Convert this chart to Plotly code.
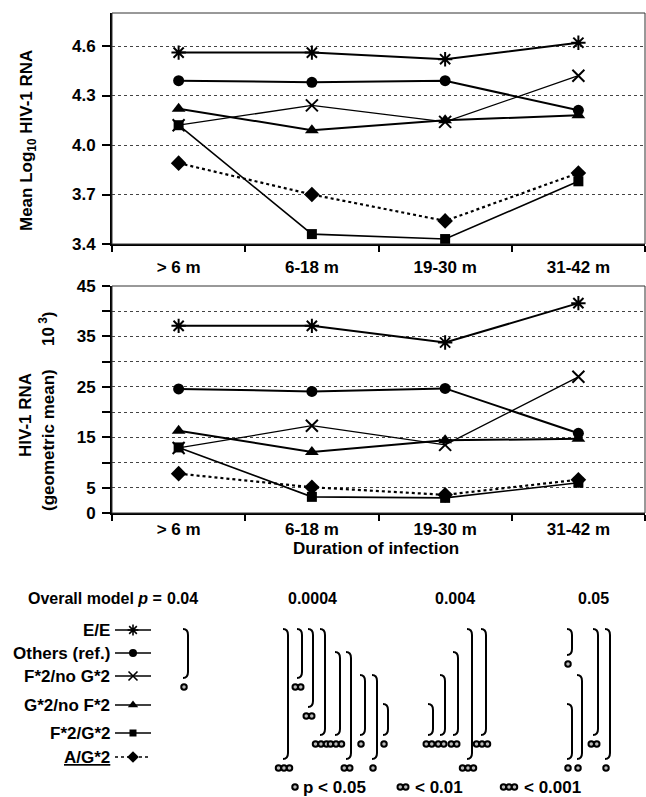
import plotly.graph_objects as go

W, H = 646, 797

# ---------------- data ----------------
categories = ["> 6 m", "6-18 m", "19-30 m", "31-42 m"]
groups = ["E/E", "Others (ref.)", "F*2/no G*2", "G*2/no F*2", "F*2/G*2", "A/G*2"]

# Mean log10 HIV-1 RNA (top panel)
log_ee = [4.56, 4.56, 4.52, 4.62]
log_others = [4.39, 4.38, 4.39, 4.21]
log_f2_nog2 = [4.12, 4.24, 4.14, 4.42]
log_g2_nof2 = [4.22, 4.09, 4.15, 4.18]
log_f2_g2 = [4.12, 3.46, 3.43, 3.78]
log_ag2 = [3.89, 3.70, 3.54, 3.83]

# HIV-1 RNA geometric mean x10^3 (bottom panel)
geo_ee = [37.1, 37.1, 33.8, 41.6]
geo_others = [24.6, 24.1, 24.7, 15.8]
geo_f2_nog2 = [12.9, 17.3, 13.5, 27.0]
geo_g2_nof2 = [16.3, 12.1, 14.4, 14.7]
geo_f2_g2 = [13.0, 3.2, 3.0, 6.0]
geo_ag2 = [7.8, 5.1, 3.6, 6.6]

top_ticks = [3.4, 3.7, 4.0, 4.3, 4.6]
bottom_ticks = [0, 5, 15, 25, 35, 45]

overall_p = ["0.04", "0.0004", "0.004", "0.05"]

# significant pairwise comparisons per period: (group from, group to, number of stars)
sig_6m = [(0, 2, 1)]
sig_6_18 = [(0, 5, 3), (0, 2, 2), (0, 3, 2), (0, 4, 3), (1, 4, 3), (1, 5, 2), (2, 4, 1), (2, 5, 1), (3, 4, 1)]
sig_19_30 = [(3, 4, 2), (2, 4, 2), (1, 4, 2), (0, 5, 3), (0, 4, 3)]
sig_31_42 = [(0, 1, 1), (3, 5, 1), (2, 5, 1), (0, 4, 2), (0, 5, 1)]
sig_all = [sig_6m, sig_6_18, sig_19_30, sig_31_42]

# ---------------- styles / layout positions ----------------
symbols = ["asterisk-open", "circle", "x-thin-open", "triangle-up", "square", "diamond"]
msizes = [12, 11, 12, 12, 10, 12]
lwidths = [2, 2, 1.3, 2, 1.6, 2.2]
dashes = ["solid", "solid", "solid", "solid", "solid", "dot"]

FONT = "Liberation Sans, Arial, sans-serif"
FS = 17


def px(x):
    return x / W


def py(y):
    return 1 - y / H


top_dom = [py(244), py(13)]
bot_dom = [py(513), py(286)]
x_dom = [px(112), px(645)]

row_y = [630, 653, 676, 705, 733, 757]
bracket_x = [[188], [288, 302, 313, 325, 340, 351, 365, 377, 388],
             [433, 445, 458, 472, 486], [572, 572, 582, 598, 610]]
p_x = [182, 312, 455, 593]

fig = go.Figure()

top_series = [log_ee, log_others, log_f2_nog2, log_g2_nof2, log_f2_g2, log_ag2]
bot_series = [geo_ee, geo_others, geo_f2_nog2, geo_g2_nof2, geo_f2_g2, geo_ag2]

for axes, series in ((("x", "y"), top_series), (("x2", "y2"), bot_series)):
    for i, vals in enumerate(series):
        open_sym = symbols[i].endswith("open")
        fig.add_trace(go.Scatter(
            x=categories, y=vals, xaxis=axes[0], yaxis=axes[1],
            mode="lines+markers", name=groups[i], showlegend=False,
            line=dict(color="black", width=lwidths[i], dash=dashes[i]),
            marker=dict(symbol=symbols[i], size=msizes[i], color="black",
                        line=dict(color="black", width=2 if open_sym else 0)),
            cliponaxis=False,
        ))

# legend samples (overlay axis in pixel units)
for i, g in enumerate(groups):
    open_sym = symbols[i].endswith("open")
    fig.add_trace(go.Scatter(
        x=[115, 133, 151], y=[row_y[i]] * 3, xaxis="x3", yaxis="y3",
        mode="lines", showlegend=False, hoverinfo="skip",
        line=dict(color="black", width=1.6, dash="dot" if dashes[i] == "dot" else "solid"),
    ))
    fig.add_trace(go.Scatter(
        x=[133], y=[row_y[i]], xaxis="x3", yaxis="y3",
        mode="markers", showlegend=False, hoverinfo="skip",
        marker=dict(symbol=symbols[i], size=msizes[i] - 3, color="black",
                    line=dict(color="black", width=1.6 if open_sym else 0)),
    ))
    label = "<u>" + g + "</u>" if g == "A/G*2" else g
    fig.add_annotation(x=112, y=row_y[i], xref="x3", yref="y3", text=label,
                       showarrow=False, xanchor="right", yanchor="middle",
                       font=dict(size=FS))

# brackets and significance markers
star_x, star_y = [], []
for c, sigs in enumerate(sig_all):
    for k, (a, b, n) in enumerate(sigs):
        bx = bracket_x[c][k]
        top = row_y[a] - 1
        bot = row_y[b] + 2
        path = (f"M {bx-5},{top} Q {bx},{top} {bx},{top+6} "
                f"L {bx},{bot-6} Q {bx},{bot} {bx-5},{bot}")
        fig.add_shape(type="path", path=path, xref="x3", yref="y3",
                      line=dict(color="black", width=2))
        cx = bx - 4
        for s in range(n):
            star_x.append(cx + (s - (n - 1) / 2) * 5.5)
            star_y.append(bot + 9)

# footnote markers
foot = [(295, 1), (403, 2), (509, 3)]
for fx, n in foot:
    for s in range(n):
        star_x.append(fx + (s - (n - 1) / 2) * 5.5)
        star_y.append(787)

fig.add_trace(go.Scatter(
    x=star_x, y=star_y, xaxis="x3", yaxis="y3", mode="markers",
    showlegend=False, hoverinfo="skip",
    marker=dict(symbol="circle", size=5.5, color="#bbbbbb",
                line=dict(color="black", width=2)),
))

foot_text = [(301, "p < 0.05"), (413, "< 0.01"), (522, "< 0.001")]
for fx, t in foot_text:
    fig.add_annotation(x=fx, y=787, xref="x3", yref="y3", text=t, showarrow=False,
                       xanchor="left", yanchor="middle", font=dict(size=FS))

# overall model p
fig.add_annotation(x=164, y=598, xref="x3", yref="y3", text="Overall model <i>p</i> =",
                   showarrow=False, xanchor="right", yanchor="middle", font=dict(size=FS - 1))
for c, p in enumerate(overall_p):
    fig.add_annotation(x=p_x[c], y=598, xref="x3", yref="y3", text=p,
                       showarrow=False, xanchor="center", yanchor="middle", font=dict(size=FS - 1))

# axis titles
fig.add_annotation(x=28, y=141, xref="x3", yref="y3", text="Mean Log<sub>10</sub> HIV-1 RNA",
                   textangle=-90, showarrow=False, font=dict(size=FS))
fig.add_annotation(x=25, y=415, xref="x3", yref="y3", text="HIV-1 RNA",
                   textangle=-90, showarrow=False, font=dict(size=FS))
fig.add_annotation(x=48, y=440, xref="x3", yref="y3", text="(geometric mean)",
                   textangle=-90, showarrow=False, font=dict(size=FS))
fig.add_annotation(x=47, y=329, xref="x3", yref="y3", text="10<sup> 3</sup>)",
                   textangle=-90, showarrow=False, font=dict(size=FS))
fig.add_annotation(x=376, y=548, xref="x3", yref="y3", text="Duration of infection",
                   showarrow=False, font=dict(size=FS))

# panel frames
for xr, yr in (("x domain", "y domain"), ("x2 domain", "y2 domain")):
    fig.add_shape(type="rect", xref=xr, yref=yr, x0=0, x1=1, y0=0, y1=1,
                  line=dict(color="#333", width=1))

grid = dict(showgrid=True, gridcolor="#444", griddash="dot", gridwidth=1)
xcommon = dict(type="category", range=[-0.5, 3.5], domain=x_dom, showline=True,
               linecolor="black", linewidth=2, ticks="outside", ticklen=6,
               tickcolor="black", tickwidth=1.5, tickson="boundaries", showgrid=False,
               zeroline=False, tickfont=dict(size=FS), automargin=False)

fig.update_layout(
    width=W, height=H, margin=dict(l=0, r=0, t=0, b=0),
    template="none", paper_bgcolor="white", plot_bgcolor="rgba(0,0,0,0)",
    font=dict(family=FONT, color="black", size=FS, weight="bold"),
    showlegend=False,
    xaxis=dict(anchor="y", ticklabelstandoff=7, **xcommon),
    xaxis2=dict(anchor="y2", ticklabelstandoff=0, **xcommon),
    yaxis=dict(domain=top_dom, range=[3.4, 4.8], tickvals=top_ticks,
               ticktext=[f"{v:.1f}" for v in top_ticks], anchor="x",
               showline=True, linecolor="black", linewidth=2, ticks="outside",
               ticklen=8, tickcolor="black", tickwidth=1.5, zeroline=False,
               ticklabelstandoff=3, automargin=False, tickfont=dict(size=FS), **grid),
    yaxis2=dict(domain=bot_dom, range=[0, 45], tickvals=bottom_ticks, anchor="x2",
                showline=True, linecolor="black", linewidth=2, ticks="outside",
                ticklen=8, tickcolor="black", tickwidth=1.5, zeroline=False,
                ticklabelstandoff=3, automargin=False, tickfont=dict(size=FS),
                minor=dict(dtick=5, tick0=0, ticks="outside", ticklen=8,
                           tickcolor="black", showgrid=True, gridcolor="#444",
                           griddash="dot"),
                **grid),
    xaxis3=dict(domain=[0, 1], range=[0, W], visible=False, anchor="y3",
                fixedrange=True),
    yaxis3=dict(domain=[0, 1], range=[H, 0], visible=False, anchor="x3",
                fixedrange=True),
)

fig.write_html("out.html", config={"displayModeBar": False},
               post_script="document.body.style.margin='0';document.body.style.overflow='hidden';")
